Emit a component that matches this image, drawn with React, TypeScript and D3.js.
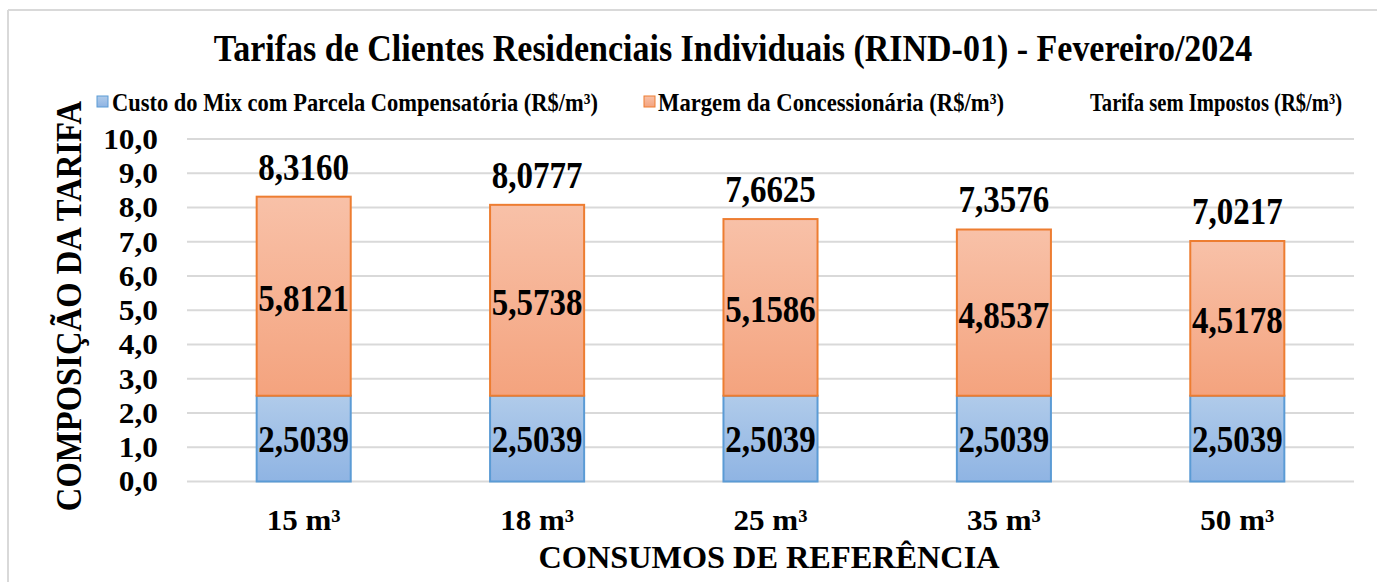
import React from "react";
import * as d3 from "d3";

const categories = ["15 m³", "18 m³", "25 m³", "35 m³", "50 m³"];
const custoMix = [2.5039, 2.5039, 2.5039, 2.5039, 2.5039];
const margem = [5.8121, 5.5738, 5.1586, 4.8537, 4.5178];
const tarifa = [8.316, 8.0777, 7.6625, 7.3576, 7.0217];
const yTicks = [0, 1, 2, 3, 4, 5, 6, 7, 8, 9, 10];
const legendLabels = [
  "Custo do Mix com Parcela Compensatória (R$/m³)",
  "Margem da Concessionária (R$/m³)",
  "Tarifa sem Impostos (R$/m³)",
];

const W = 1377;
const H = 582;
const FONT = "'Liberation Serif', 'Times New Roman', serif";
const SY = 1.12;

const loc = d3.formatLocale({ decimal: ",", thousands: ".", grouping: [3], currency: ["R$", ""] });
const f4 = loc.format(".4f");
const f1 = loc.format(".1f");

type TP = {
  x: number;
  y: number;
  size: number;
  anchor?: "start" | "middle" | "end";
  dy?: string;
  rotate?: number;
  len?: number;
  sx?: number;
  sy?: number;
  children: React.ReactNode;
};

function T({ x, y, size, anchor = "start", dy, rotate = 0, len, sx = 1, sy = SY, children }: TP) {
  const tr = rotate
    ? `translate(${x},${y}) rotate(${rotate}) scale(${sx},${sy})`
    : `translate(${x},${y}) scale(${sx},${sy})`;
  return (
    <text
      transform={tr}
      textAnchor={anchor}
      dy={dy}
      fontSize={size}
      fill="#000"
      textLength={len}
      lengthAdjust={len ? "spacingAndGlyphs" : undefined}
    >
      {children}
    </text>
  );
}

export default function App() {
  const y = d3.scaleLinear().domain([0, 10]).range([481.5, 139]);
  const x = d3
    .scaleBand<string>()
    .domain(categories)
    .range([187, 1354])
    .paddingInner(0.597)
    .paddingOuter(0.2985);
  const bw = x.bandwidth();

  return (
    <svg
      width={W}
      height={H}
      style={{ position: "absolute", left: 0, top: 0, background: "#fff" }}
      fontFamily={FONT}
      fontWeight="bold"
    >
      <defs>
        <linearGradient id="gBlue" x1="0" y1="0" x2="0" y2="1">
          <stop offset="0" stopColor="#b0cbea" />
          <stop offset="1" stopColor="#8fb4e3" />
        </linearGradient>
        <linearGradient id="gOrange" x1="0" y1="0" x2="0" y2="1">
          <stop offset="0" stopColor="#f8c1a8" />
          <stop offset="1" stopColor="#f4a37e" />
        </linearGradient>
      </defs>
      <rect x={0} y={0} width={W} height={H} fill="#fff" />
      {/* frame */}
      <line x1={8} y1={10} x2={W} y2={10} stroke="#d9d9d9" strokeWidth={2} />
      <line x1={8} y1={10} x2={8} y2={H} stroke="#d9d9d9" strokeWidth={2} />

      {/* title */}
      <T x={733} y={48} size={34} anchor="middle" dy="0.35em">
        Tarifas de Clientes Residenciais Individuais (RIND-01) - Fevereiro/2024
      </T>

      {/* legend */}
      <rect x={97} y={96} width={11} height={11} fill="url(#gBlue)" stroke="#5b9bd5" strokeWidth={1} />
      <T x={112} y={102} size={22} dy="0.35em" len={486}>{legendLabels[0]}</T>
      <rect x={644} y={96} width={11} height={11} fill="url(#gOrange)" stroke="#ed7d31" strokeWidth={1} />
      <T x={658} y={102} size={22} dy="0.35em" len={346}>{legendLabels[1]}</T>
      <T x={1090} y={102} size={22} dy="0.35em" len={252}>{legendLabels[2]}</T>

      {/* gridlines */}
      {yTicks.map((t) => (
        <line key={t} x1={187} x2={1354} y1={y(t)} y2={y(t)} stroke="#d9d9d9" strokeWidth={2} />
      ))}
      {/* y tick labels */}
      {yTicks.map((t) => (
        <T key={"l" + t} x={158} y={y(t)} size={29} anchor="end" dy="0.34em" sx={1.08} sy={1}>
          {f1(t)}
        </T>
      ))}

      {/* bars */}
      {categories.map((c, i) => {
        const x0 = x(c)!;
        const b0 = y(0);
        const b1 = y(custoMix[i]);
        const b2 = y(custoMix[i] + margem[i]);
        const cx = x0 + bw / 2;
        return (
          <g key={c}>
            <rect x={x0} y={b1} width={bw} height={b0 - b1} fill="url(#gBlue)" stroke="#5b9bd5" strokeWidth={2} />
            <rect x={x0} y={b2} width={bw} height={b1 - b2} fill="url(#gOrange)" stroke="#ed7d31" strokeWidth={2} />
            <T x={cx} y={(b0 + b1) / 2} size={33} anchor="middle" dy="0.35em">
              {f4(custoMix[i])}
            </T>
            <T x={cx} y={(b1 + b2) / 2 + 2} size={33} anchor="middle" dy="0.35em">
              {f4(margem[i])}
            </T>
            <T x={cx} y={y(tarifa[i]) - 30} size={33} anchor="middle" dy="0.35em">
              {f4(tarifa[i])}
            </T>
            <T x={cx} y={519} size={29} anchor="middle" dy="0.35em" sx={1.07} sy={1.05}>
              {c}
            </T>
          </g>
        );
      })}

      {/* axis titles */}
      <T x={769} y={557} size={30} anchor="middle" dy="0.35em" sx={1.077} sy={1.05}>
        CONSUMOS DE REFERÊNCIA
      </T>
      <T x={68} y={306} size={32.7} anchor="middle" dy="0.35em" rotate={-90}>
        COMPOSIÇÃO DA TARIFA
      </T>
    </svg>
  );
}
